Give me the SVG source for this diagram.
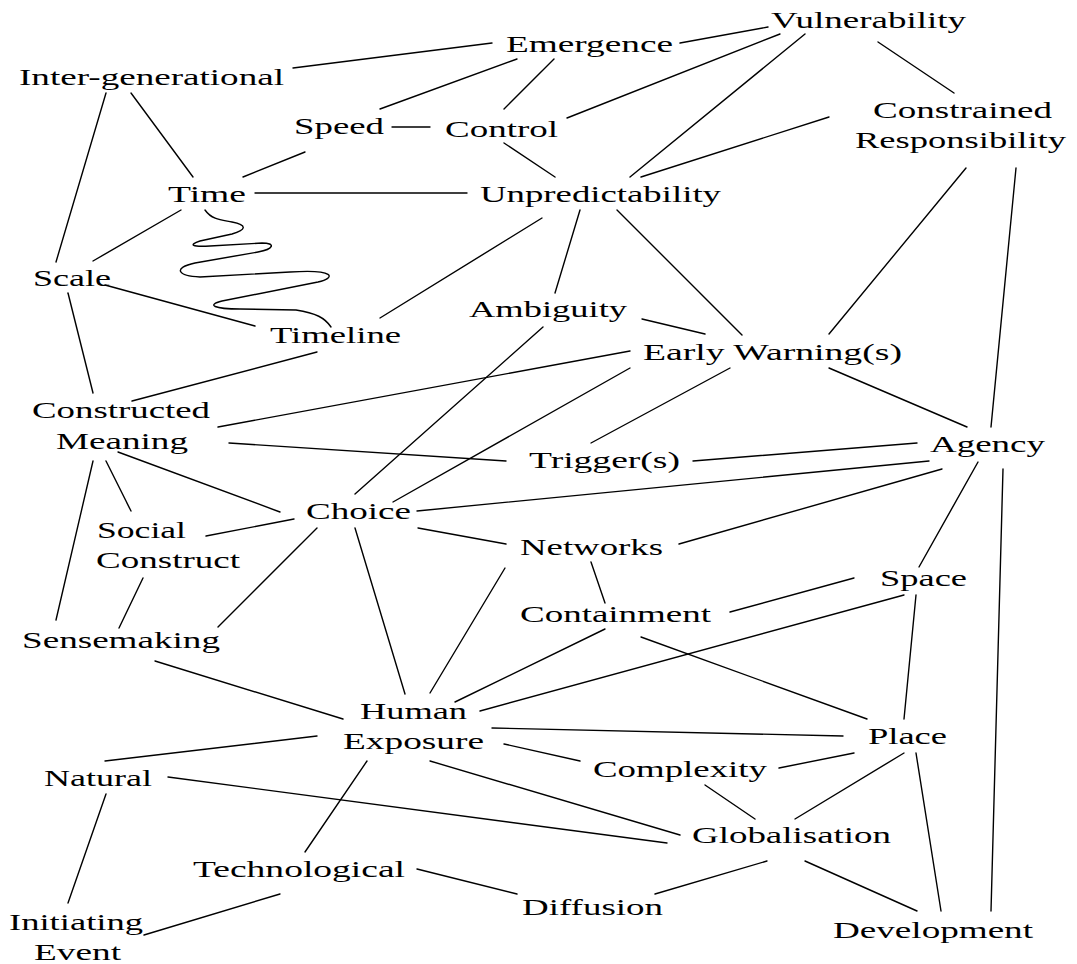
<svg xmlns="http://www.w3.org/2000/svg" width="1077" height="964" viewBox="0 0 1077 964">
<style>
  .e line, .e path { stroke:#000; stroke-width:1.4; fill:none; stroke-linecap:round; }
  text { font-family:"Liberation Serif","Times New Roman",serif; font-size:23px; fill:#000; }
</style>
<rect width="1077" height="964" fill="#fff"/>
<g id="connectors" class="e">
  <line x1="293" y1="68" x2="492" y2="43"/>
  <line x1="517" y1="59" x2="380" y2="109"/>
  <line x1="554" y1="59" x2="504" y2="109"/>
  <line x1="392" y1="127" x2="430" y2="127"/>
  <line x1="504" y1="143" x2="555" y2="177"/>
  <line x1="131" y1="93" x2="193" y2="177"/>
  <line x1="106" y1="93" x2="56" y2="262"/>
  <line x1="305" y1="152" x2="243" y2="177"/>
  <line x1="255" y1="193" x2="467" y2="193"/>
  <line x1="181" y1="210" x2="93" y2="261"/>
  <path d="M205,210 C212,220 222,220 232,222 C248,225 246,230 232,234 L200,241 C188,245 192,247 210,246 L262,243 C276,243 274,249 258,252 L195,263 C172,268 178,276 200,277 L290,272 C336,269 336,278 318,282 L222,301 C206,305 214,309 240,309 L296,310 C316,313 325,318 331,327"/>
  <line x1="105" y1="285" x2="255" y2="326"/>
  <line x1="542" y1="218" x2="380" y2="318"/>
  <line x1="580" y1="210" x2="555" y2="293"/>
  <line x1="617" y1="210" x2="742" y2="335"/>
  <line x1="768" y1="27" x2="680" y2="43"/>
  <line x1="780" y1="34" x2="567" y2="118"/>
  <line x1="805" y1="34" x2="630" y2="177"/>
  <line x1="829" y1="117" x2="641" y2="177"/>
  <line x1="878" y1="42" x2="954" y2="93"/>
  <line x1="966" y1="168" x2="829" y2="334"/>
  <line x1="1016" y1="168" x2="991" y2="427"/>
  <line x1="1003" y1="469" x2="991" y2="911"/>
  <line x1="68" y1="293" x2="93" y2="393"/>
  <line x1="317" y1="352" x2="132" y2="401"/>
  <line x1="218" y1="427" x2="630" y2="351"/>
  <line x1="229" y1="443" x2="506" y2="461"/>
  <line x1="118" y1="452" x2="280" y2="512"/>
  <line x1="106" y1="461" x2="131" y2="511"/>
  <line x1="93" y1="461" x2="56" y2="620"/>
  <line x1="543" y1="327" x2="355" y2="494"/>
  <line x1="393" y1="502" x2="630" y2="368"/>
  <line x1="730" y1="368" x2="591" y2="443"/>
  <line x1="829" y1="368" x2="967" y2="427"/>
  <line x1="642" y1="319" x2="705" y2="334"/>
  <line x1="693" y1="461" x2="917" y2="443"/>
  <line x1="417" y1="511" x2="929" y2="461"/>
  <line x1="679" y1="544" x2="942" y2="469"/>
  <line x1="978" y1="462" x2="919" y2="567"/>
  <line x1="294" y1="519" x2="206" y2="536"/>
  <line x1="418" y1="528" x2="506" y2="544"/>
  <line x1="317" y1="528" x2="218" y2="627"/>
  <line x1="355" y1="528" x2="405" y2="694"/>
  <line x1="143" y1="578" x2="119" y2="628"/>
  <line x1="505" y1="568" x2="430" y2="693"/>
  <line x1="591" y1="562" x2="605" y2="603"/>
  <line x1="730" y1="612" x2="854" y2="578"/>
  <line x1="904" y1="595" x2="480" y2="711"/>
  <line x1="605" y1="629" x2="455" y2="702"/>
  <line x1="641" y1="637" x2="867" y2="719"/>
  <line x1="916" y1="595" x2="904" y2="719"/>
  <line x1="492" y1="728" x2="843" y2="736"/>
  <line x1="504" y1="744" x2="580" y2="761"/>
  <line x1="430" y1="761" x2="680" y2="835"/>
  <line x1="168" y1="777" x2="667" y2="843"/>
  <line x1="155" y1="661" x2="343" y2="719"/>
  <line x1="317" y1="736" x2="105" y2="761"/>
  <line x1="367" y1="761" x2="305" y2="852"/>
  <line x1="106" y1="794" x2="68" y2="903"/>
  <line x1="280" y1="894" x2="144" y2="935"/>
  <line x1="417" y1="869" x2="517" y2="894"/>
  <line x1="655" y1="894" x2="767" y2="861"/>
  <line x1="805" y1="861" x2="917" y2="911"/>
  <line x1="916" y1="753" x2="941" y2="911"/>
  <line x1="904" y1="753" x2="795" y2="819"/>
  <line x1="779" y1="768" x2="854" y2="753"/>
  <line x1="705" y1="785" x2="755" y2="819"/>
</g>
<g id="n-vulnerability"><text x="771" y="28" textLength="195" lengthAdjust="spacingAndGlyphs">Vulnerability</text></g>
<g id="n-emergence"><text x="506" y="52" textLength="167" lengthAdjust="spacingAndGlyphs">Emergence</text></g>
<g id="n-intergenerational"><text x="19" y="85" textLength="265" lengthAdjust="spacingAndGlyphs">Inter-generational</text></g>
<g id="n-speed"><text x="294" y="134" textLength="90" lengthAdjust="spacingAndGlyphs">Speed</text></g>
<g id="n-control"><text x="445" y="137" textLength="113" lengthAdjust="spacingAndGlyphs">Control</text></g>
<g id="n-constrained-responsibility">
  <text x="873" y="118" textLength="179" lengthAdjust="spacingAndGlyphs">Constrained</text>
  <text x="855" y="148" textLength="211" lengthAdjust="spacingAndGlyphs">Responsibility</text>
</g>
<g id="n-time"><text x="168" y="202" textLength="78" lengthAdjust="spacingAndGlyphs">Time</text></g>
<g id="n-unpredictability"><text x="480" y="202" textLength="241" lengthAdjust="spacingAndGlyphs">Unpredictability</text></g>
<g id="n-scale"><text x="33" y="286" textLength="78" lengthAdjust="spacingAndGlyphs">Scale</text></g>
<g id="n-ambiguity"><text x="469" y="317" textLength="158" lengthAdjust="spacingAndGlyphs">Ambiguity</text></g>
<g id="n-timeline"><text x="270" y="343" textLength="131" lengthAdjust="spacingAndGlyphs">Timeline</text></g>
<g id="n-early-warnings"><text x="643" y="360" textLength="259" lengthAdjust="spacingAndGlyphs">Early Warning(s)</text></g>
<g id="n-constructed-meaning">
  <text x="32" y="418" textLength="178" lengthAdjust="spacingAndGlyphs">Constructed</text>
  <text x="56" y="449" textLength="132" lengthAdjust="spacingAndGlyphs">Meaning</text>
</g>
<g id="n-agency"><text x="930" y="452" textLength="115" lengthAdjust="spacingAndGlyphs">Agency</text></g>
<g id="n-triggers"><text x="529" y="468" textLength="151" lengthAdjust="spacingAndGlyphs">Trigger(s)</text></g>
<g id="n-choice"><text x="306" y="519" textLength="105" lengthAdjust="spacingAndGlyphs">Choice</text></g>
<g id="n-social-construct">
  <text x="97" y="538" textLength="89" lengthAdjust="spacingAndGlyphs">Social</text>
  <text x="96" y="568" textLength="144" lengthAdjust="spacingAndGlyphs">Construct</text>
</g>
<g id="n-networks"><text x="520" y="555" textLength="143" lengthAdjust="spacingAndGlyphs">Networks</text></g>
<g id="n-space"><text x="880" y="586" textLength="87" lengthAdjust="spacingAndGlyphs">Space</text></g>
<g id="n-containment"><text x="520" y="622" textLength="191" lengthAdjust="spacingAndGlyphs">Containment</text></g>
<g id="n-sensemaking"><text x="22" y="648" textLength="198" lengthAdjust="spacingAndGlyphs">Sensemaking</text></g>
<g id="n-human-exposure">
  <text x="360" y="719" textLength="107" lengthAdjust="spacingAndGlyphs">Human</text>
  <text x="343" y="749" textLength="141" lengthAdjust="spacingAndGlyphs">Exposure</text>
</g>
<g id="n-place"><text x="868" y="744" textLength="79" lengthAdjust="spacingAndGlyphs">Place</text></g>
<g id="n-natural"><text x="44" y="786" textLength="108" lengthAdjust="spacingAndGlyphs">Natural</text></g>
<g id="n-complexity"><text x="593" y="777" textLength="174" lengthAdjust="spacingAndGlyphs">Complexity</text></g>
<g id="n-globalisation"><text x="692" y="843" textLength="199" lengthAdjust="spacingAndGlyphs">Globalisation</text></g>
<g id="n-technological"><text x="193" y="877" textLength="212" lengthAdjust="spacingAndGlyphs">Technological</text></g>
<g id="n-diffusion"><text x="522" y="915" textLength="141" lengthAdjust="spacingAndGlyphs">Diffusion</text></g>
<g id="n-initiating-event">
  <text x="9" y="930" textLength="134" lengthAdjust="spacingAndGlyphs">Initiating</text>
  <text x="34" y="960" textLength="87" lengthAdjust="spacingAndGlyphs">Event</text>
</g>
<g id="n-development"><text x="833" y="938" textLength="200" lengthAdjust="spacingAndGlyphs">Development</text></g>
</svg>
